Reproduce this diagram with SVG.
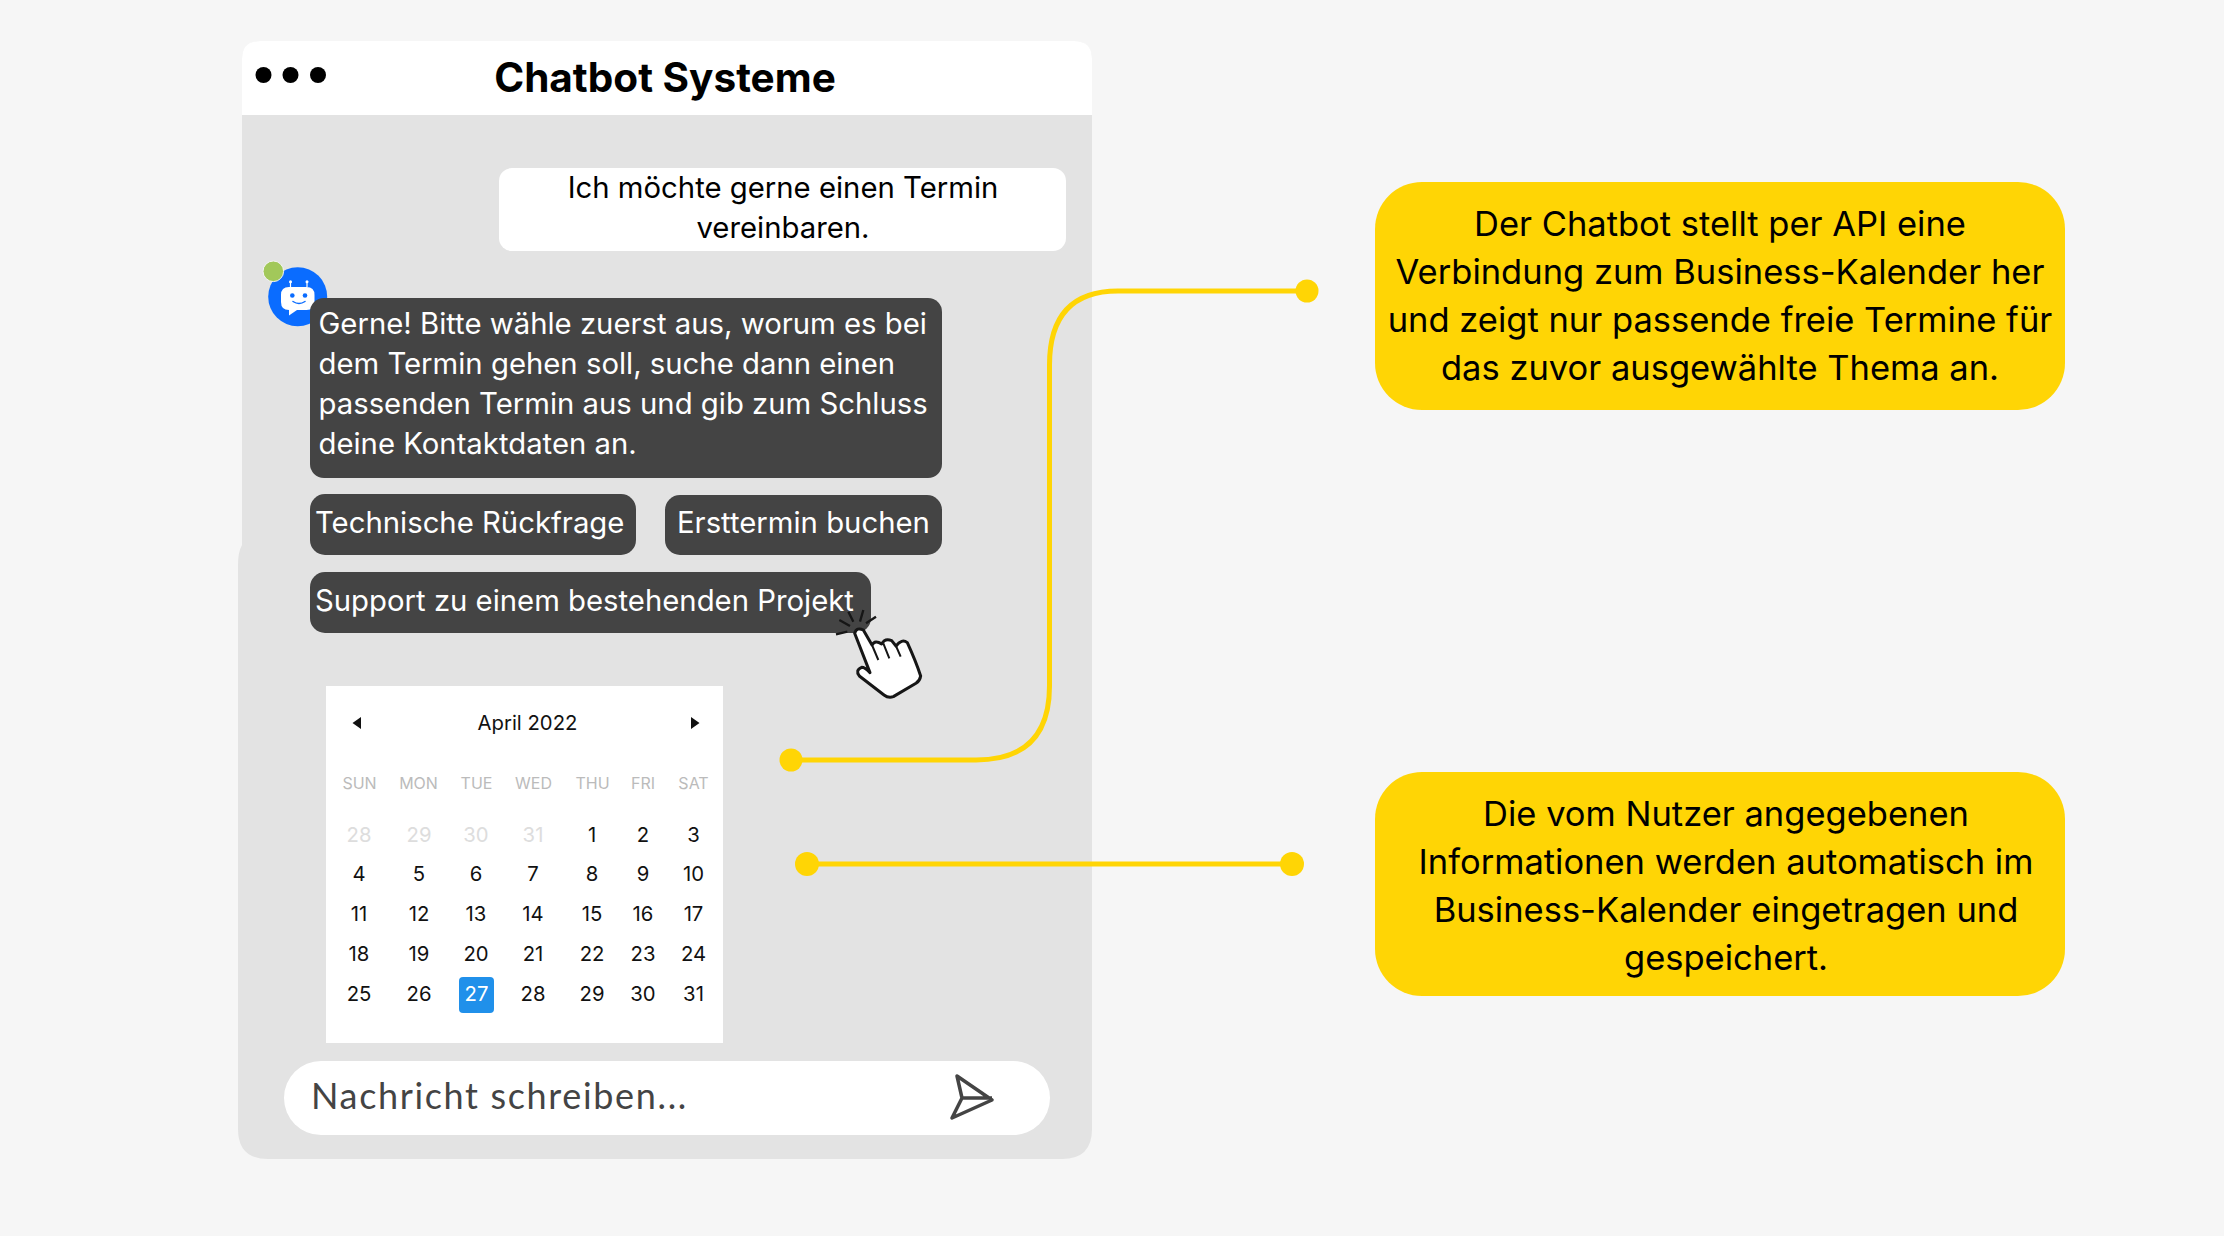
<svg xmlns="http://www.w3.org/2000/svg" width="2224" height="1236" viewBox="0 0 2224 1236">
<style>
text{font-family:Inter,"Liberation Sans",sans-serif}
.m{font-size:29.300px}
.w{fill:#fff}
.k{fill:#000}
.y{fill:#ffd505}
.c{text-anchor:middle}
.box{font-size:34.500px;fill:#000;text-anchor:middle}
.d{font-size:20.300px;fill:#111;text-anchor:middle}
.f{fill:#ddd}
.h{font-size:16px;fill:#bbb;text-anchor:middle}
.dark{fill:#444}
.ln{fill:none;stroke:#ffd505;stroke-width:5}
</style>
<rect width="2224" height="1236" fill="#f6f6f6"/>
<g id="panel">
<path d="M242 60Q242 41 261 41H1073Q1092 41 1092 60V1129Q1092 1159 1062 1159H268Q238 1159 238 1129V565Q238 552 242 545Z" fill="#e3e3e3"/>
<path d="M242 115V59Q242 41 260 41H1074Q1092 41 1092 59V115Z" fill="#fff"/>
<circle cx="263.500" cy="75" r="8" class="k"/><circle cx="290.500" cy="75" r="8" class="k"/><circle cx="318" cy="75" r="8" class="k"/>
<text x="665" y="92" class="c k" style="font-size:40.500px;font-weight:700">Chatbot Systeme</text>
</g>
<g id="user-message">
<rect x="499" y="168" width="567" height="83" rx="13" fill="#fff"/>
<text x="783" y="197.500" class="m c k">Ich möchte gerne einen Termin</text>
<text x="783" y="237.500" class="m c k">vereinbaren.</text>
</g>
<g id="avatar">
<circle cx="297.700" cy="296.700" r="29.500" fill="#0a6cff"/>
<circle cx="273.300" cy="271.300" r="10.300" fill="#a2c85a" stroke="#f4f4f4" stroke-width="1"/>
<g transform="translate(1 1)">
<path d="M288 286H305.500Q313.500 286 313.500 294V301Q313.500 309 305.500 309H296L288 314.500V309Q280 309 280 301V294Q280 286 288 286Z" fill="#fff"/>
<path d="M289.500 286V281M306 286V281" stroke="#fff" stroke-width="1.200"/>
<circle cx="289.500" cy="280.700" r="1.500" fill="#fff"/><circle cx="306" cy="280.700" r="1.500" fill="#fff"/>
<circle cx="291.300" cy="294.500" r="2.300" fill="#0a6cff"/><circle cx="304" cy="294.500" r="2.300" fill="#0a6cff"/>
<path d="M292 300.500Q298 304.500 304 300.500" fill="none" stroke="#0a6cff" stroke-width="1.500" stroke-linecap="round"/>
</g>
</g>
<g id="bot-message">
<rect x="310" y="298" width="632" height="180" rx="14" class="dark"/>
<text x="318.500" y="334.300" class="m w">Gerne! Bitte wähle zuerst aus, worum es bei</text>
<text x="318.500" y="374.300" class="m w">dem Termin gehen soll, suche dann einen</text>
<text x="318.500" y="414.300" class="m w">passenden Termin aus und gib zum Schluss</text>
<text x="318.500" y="454.300" class="m w">deine Kontaktdaten an.</text>
</g>
<g id="button-rueckfrage">
<rect x="310" y="494" width="326" height="61" rx="15" class="dark"/>
<text x="315" y="533" class="m w">Technische Rückfrage</text>
</g>
<g id="button-ersttermin">
<rect x="665" y="495" width="277" height="60" rx="15" class="dark"/>
<text x="677" y="533" class="m w">Ersttermin buchen</text>
</g>
<g id="button-support">
<rect x="310" y="572" width="561" height="61" rx="15" class="dark"/>
<text x="315" y="611" class="m w">Support zu einem bestehenden Projekt</text>
</g>
<g id="calendar">
<rect x="326" y="686" width="397" height="357" fill="#fff"/>
<text x="527.500" y="729.500" class="d">April 2022</text>
<path d="M352.500 723L361 717V729ZM699.500 723L691 717V729Z" fill="#111"/>
<text x="359.500" y="788.500" class="h">SUN</text><text x="418.500" y="788.500" class="h">MON</text><text x="476.500" y="788.500" class="h">TUE</text><text x="533.500" y="788.500" class="h">WED</text><text x="592.500" y="788.500" class="h">THU</text><text x="643" y="788.500" class="h">FRI</text><text x="693.500" y="788.500" class="h">SAT</text>
<text x="359" y="841.500" class="d f">28</text><text x="419" y="841.500" class="d f">29</text><text x="476" y="841.500" class="d f">30</text><text x="533" y="841.500" class="d f">31</text><text x="592" y="841.500" class="d">1</text><text x="643" y="841.500" class="d">2</text><text x="693.500" y="841.500" class="d">3</text>
<text x="359" y="881" class="d">4</text><text x="419" y="881" class="d">5</text><text x="476" y="881" class="d">6</text><text x="533" y="881" class="d">7</text><text x="592" y="881" class="d">8</text><text x="643" y="881" class="d">9</text><text x="693.500" y="881" class="d">10</text>
<text x="359" y="920.500" class="d">11</text><text x="419" y="920.500" class="d">12</text><text x="476" y="920.500" class="d">13</text><text x="533" y="920.500" class="d">14</text><text x="592" y="920.500" class="d">15</text><text x="643" y="920.500" class="d">16</text><text x="693.500" y="920.500" class="d">17</text>
<text x="359" y="960.500" class="d">18</text><text x="419" y="960.500" class="d">19</text><text x="476" y="960.500" class="d">20</text><text x="533" y="960.500" class="d">21</text><text x="592" y="960.500" class="d">22</text><text x="643" y="960.500" class="d">23</text><text x="693.500" y="960.500" class="d">24</text>
<rect x="459" y="977" width="35" height="36" rx="4" fill="#2090ea"/>
<text x="359" y="1000.500" class="d">25</text><text x="419" y="1000.500" class="d">26</text><text x="476.500" y="1000.500" class="d" style="fill:#fff">27</text><text x="533" y="1000.500" class="d">28</text><text x="592" y="1000.500" class="d">29</text><text x="643" y="1000.500" class="d">30</text><text x="693.500" y="1000.500" class="d">31</text>
</g>
<g id="input">
<rect x="284" y="1061" width="766" height="74" rx="37" fill="#fff"/>
<text x="311" y="1109" style="font-family:Lato,sans-serif;font-size:36px;letter-spacing:1.650px;fill:#444">Nachricht schreiben...</text>
<path d="M957 1076L992 1100L952 1118L962 1098ZM962 1098H992" fill="none" stroke="#444" stroke-width="3.500" stroke-linejoin="round"/>
</g>
<g id="connectors">
<path class="ln" d="M791 760H976Q1049.500 760 1049.500 686V365Q1049.500 291 1118 291H1307"/>
<circle cx="791" cy="760" r="11.500" class="y"/>
<circle cx="1307" cy="291" r="11.500" class="y"/>
<path class="ln" d="M807 864H1292"/>
<circle cx="807" cy="864" r="12" class="y"/>
<circle cx="1292" cy="864" r="12" class="y"/>
</g>
<g id="hand" transform="translate(810 590) scale(.3333)">
<path d="M78 133L112 125M88 90L120 108M115 65L130 95M160 60L150 95M198 80L168 100" stroke="#161616" stroke-width="7" fill="none"/>
<path d="M134 130Q140 110 160 120L186 165Q195 148 215 162Q225 143 245 152L258 168Q275 145 292 158Q318 215 332 258Q330 272 318 280L250 320Q235 325 222 315L148 258Q135 240 155 232Q165 232 180 248Z" fill="#fff" stroke="#161616" stroke-width="9" stroke-linejoin="round"/>
<path d="M186 165L205 210M220 160L238 205M258 168L272 200" stroke="#161616" stroke-width="6" fill="none"/>
</g>
<g id="note-api">
<rect x="1375" y="182" width="690" height="228" rx="47" class="y"/>
<text x="1720" y="236" class="box">Der Chatbot stellt per API eine</text>
<text x="1720" y="284" class="box">Verbindung zum Business-Kalender her</text>
<text x="1720" y="332" class="box">und zeigt nur passende freie Termine für</text>
<text x="1720" y="380" class="box">das zuvor ausgewählte Thema an.</text>
</g>
<g id="note-speichern">
<rect x="1375" y="772" width="690" height="224" rx="47" class="y"/>
<text x="1726" y="826" class="box">Die vom Nutzer angegebenen</text>
<text x="1726" y="874" class="box">Informationen werden automatisch im</text>
<text x="1726" y="922" class="box">Business-Kalender eingetragen und</text>
<text x="1726" y="970" class="box">gespeichert.</text>
</g>
</svg>
